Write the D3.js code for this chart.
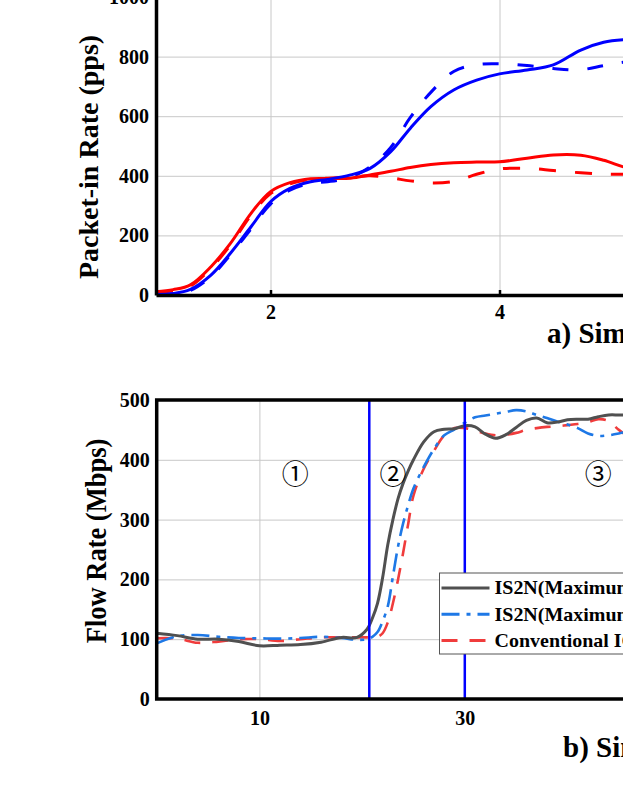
<!DOCTYPE html>
<html>
<head>
<meta charset="utf-8">
<script src="https://cdn.jsdelivr.net/npm/d3@7"></script>
<style>
  body { margin: 0; background: #fff; }
  svg { display: block; font-family: "Liberation Serif", "Times New Roman", serif; font-weight: bold; }
</style>
</head>
<body>
<svg id="chart" width="623" height="806"></svg>
<script>
// a) packet-in rate
const topTime = [1.0, 1.15, 1.3, 1.48, 1.65, 1.83, 2.0, 2.17, 2.35, 2.5, 2.7, 2.87, 3.05, 3.22, 3.4, 3.6, 3.8, 4.0, 4.24, 4.47, 4.71, 4.91, 5.1, 5.3];
const topBlueSolid = [2, 5, 19, 67, 140, 229, 313, 358, 380, 388, 403, 425, 481, 559, 632, 688, 721, 742, 755, 772, 822, 848, 857, 858];
const topBlueDash = [0, 3, 15, 62, 135, 222, 305, 352, 375, 380, 395, 430, 495, 595, 680, 750, 773, 776, 770, 760, 756, 770, 782, 785];
const topRedSolid = [11, 18, 34, 95, 173, 274, 347, 377, 390, 391, 392, 403, 415, 428, 438, 444, 446, 447, 459, 470, 469, 452, 428, 412];
const topRedDash = [8, 14, 30, 90, 168, 268, 340, 373, 388, 392, 396, 400, 393, 383, 376, 381, 405, 423, 425, 418, 410, 406, 405, 405];
const topYTicks = [0, 200, 400, 600, 800, 1000];
const topXTicks = [2, 4];

// b) flow rate
const bottomTime = [0, 2, 4, 6, 8, 10, 12, 14, 16, 18, 19.5, 20.5, 21, 21.5, 22, 22.5, 23, 23.5, 24, 24.5, 25, 26, 27, 28, 29, 30, 31, 32, 33, 34, 35, 36, 37, 38, 39, 40, 41, 42, 43, 44, 45, 46, 48];
const grayRate = [110, 106, 100, 100, 96, 89, 90, 91, 95, 103, 103, 117, 135, 160, 203, 258, 300, 335, 361, 382, 400, 430, 447, 451, 452, 457, 455, 443, 436, 442, 454, 466, 470, 462, 463, 467, 468, 468, 472, 475, 475, 475, 475];
const blueRate = [93, 105, 107, 104, 102, 101.5, 101, 102, 104, 102, 99, 100, 104, 112, 130, 155, 205, 255, 294, 325, 352, 388, 418, 441, 451, 462, 471, 474, 477, 480, 483, 481, 475, 470, 464, 459, 453, 444, 440, 441, 444, 448, 452];
const redRate = [101.5, 101, 94, 96, 100, 100, 97, 100, 103, 103, 103, 103, 103, 104, 110, 128, 160, 200, 245, 294, 340, 385, 415, 441, 453, 453, 449, 444, 441, 442, 445, 450, 453, 455, 456, 458, 460, 463, 468, 465, 450, 440, 440];
const bottomYTicks = [0, 100, 200, 300, 400, 500];
const bottomXTicks = [10, 30];
const phaseLines = [20.7, 30];
const phaseLabels = [{x: 13.5, text: '①'}, {x: 23.0, text: '②'}, {x: 43.0, text: '③'}];
const legendNames = ['IS2N(Maximum Throughput)', 'IS2N(Maximum Fairness)', 'Conventional ICN'];

const svg = d3.select('#chart');
const fmt = d3.format('d');
const styleTicks = g => g.attr('font-family', null).attr('font-size', null)
    .call(g => g.selectAll('text').attr('font-size', 20));

// top panel ----------------------------------------------------------------
const tx = d3.scaleLinear().domain([1, 7]).range([156, 843]);
const ty = d3.scaleLinear().domain([0, 1000]).range([295, -3]);

const topPanel = svg.append('g');
topPanel.append('clipPath').attr('id', 'clipTop')
    .append('rect').attr('x', 156).attr('y', -3).attr('width', 687).attr('height', 298);

topPanel.append('g').attr('transform', 'translate(0,295)')
    .call(d3.axisBottom(tx).tickValues([2, 4, 6]).tickSize(-298).tickFormat(''))
    .call(g => g.select('.domain').remove())
    .call(g => g.selectAll('line').attr('stroke', '#c8c8c8'));
topPanel.append('g').attr('transform', 'translate(156,0)')
    .call(d3.axisLeft(ty).tickValues([200, 400, 600, 800]).tickSize(-687).tickFormat(''))
    .call(g => g.select('.domain').remove())
    .call(g => g.selectAll('line').attr('stroke', '#c8c8c8'));

const topLine = d3.line().x(d => tx(d[0])).y(d => ty(d[1])).curve(d3.curveCatmullRom);
const topSeries = [
  {values: topRedDash, color: '#ff0000', dash: '17,19'},
  {values: topBlueDash, color: '#0000ff', dash: '16,19'},
  {values: topRedSolid, color: '#ff0000', dash: null},
  {values: topBlueSolid, color: '#0000ff', dash: null}
];
topPanel.append('g').attr('clip-path', 'url(#clipTop)')
  .selectAll('path').data(topSeries).join('path')
    .attr('d', s => topLine(topTime.map((t, i) => [t, s.values[i]])))
    .attr('fill', 'none')
    .attr('stroke', s => s.color)
    .attr('stroke-width', 3)
    .attr('stroke-dasharray', s => s.dash);

topPanel.append('g').attr('transform', 'translate(0,295)')
    .call(d3.axisBottom(tx).tickValues(topXTicks).tickFormat(fmt).tickSizeInner(-5).tickSizeOuter(0).tickPadding(10))
    .call(g => g.select('.domain').attr('stroke-width', 3.5))
    .call(g => g.selectAll('.tick line').attr('stroke-width', 2.5))
    .call(styleTicks);
topPanel.append('g').attr('transform', 'translate(156,0)')
    .call(d3.axisLeft(ty).tickValues(topYTicks).tickFormat(fmt).tickSize(0).tickPadding(7))
    .call(g => g.select('.domain').attr('stroke-width', 3.5))
    .call(styleTicks);

topPanel.append('text')
    .attr('transform', 'translate(98,157) rotate(-90)')
    .attr('text-anchor', 'middle')
    .attr('font-size', 28)
    .text('Packet-in Rate (pps)');
topPanel.append('text')
    .attr('x', 547).attr('y', 343)
    .attr('font-size', 29)
    .text('a) Simulation Time (s)');

// bottom panel -------------------------------------------------------------
const bx = d3.scaleLinear().domain([0, 60]).range([156.7, 772.9]);
const by = d3.scaleLinear().domain([0, 500]).range([699, 400]);

const bottomPanel = svg.append('g');
bottomPanel.append('clipPath').attr('id', 'clipBottom')
    .append('rect').attr('x', 156.7).attr('y', 400).attr('width', 616).attr('height', 299);

bottomPanel.append('g').attr('transform', 'translate(0,699)')
    .call(d3.axisBottom(bx).tickValues([10, 30, 50]).tickSize(-299).tickFormat(''))
    .call(g => g.select('.domain').remove())
    .call(g => g.selectAll('line').attr('stroke', '#c8c8c8'));
bottomPanel.append('g').attr('transform', 'translate(156.7,0)')
    .call(d3.axisLeft(by).tickValues([100, 200, 300, 400]).tickSize(-616).tickFormat(''))
    .call(g => g.select('.domain').remove())
    .call(g => g.selectAll('line').attr('stroke', '#c8c8c8'));

const bottomLine = d3.line().x(d => bx(d[0])).y(d => by(d[1])).curve(d3.curveCatmullRom);
const bottomSeries = [
  {values: redRate, color: '#f03c3c', dash: '16,12', width: 2.6},
  {values: blueRate, color: '#1e78e6', dash: '18,7,4,7', width: 2.6},
  {values: grayRate, color: '#505050', dash: null, width: 3}
];
bottomPanel.append('g').attr('clip-path', 'url(#clipBottom)')
  .selectAll('path').data(bottomSeries).join('path')
    .attr('d', s => bottomLine(bottomTime.map((t, i) => [t, s.values[i]])))
    .attr('fill', 'none')
    .attr('stroke', s => s.color)
    .attr('stroke-width', s => s.width)
    .attr('stroke-dasharray', s => s.dash);

bottomPanel.append('g')
  .selectAll('line').data(phaseLines).join('line')
    .attr('x1', d => bx(d)).attr('x2', d => bx(d))
    .attr('y1', 400).attr('y2', 699)
    .attr('stroke', '#0000ff').attr('stroke-width', 2.5);

bottomPanel.append('g')
  .selectAll('text').data(phaseLabels).join('text')
    .attr('x', d => bx(d.x)).attr('y', by(375))
    .attr('dy', '0.35em')
    .attr('text-anchor', 'middle')
    .attr('font-family', '"Noto Sans CJK JP", "DejaVu Sans", sans-serif')
    .attr('font-weight', 'normal')
    .attr('font-size', 27)
    .text(d => d.text);

// frame
bottomPanel.append('rect')
    .attr('x', 156.7).attr('y', 400).attr('width', 616).attr('height', 299)
    .attr('fill', 'none').attr('stroke', '#000').attr('stroke-width', 3.5);
bottomPanel.append('g').attr('transform', 'translate(0,699)')
    .call(d3.axisBottom(bx).tickValues(bottomXTicks).tickFormat(fmt).tickSize(0).tickPadding(12))
    .call(g => g.select('.domain').remove())
    .call(styleTicks);
bottomPanel.append('g').attr('transform', 'translate(156.7,0)')
    .call(d3.axisLeft(by).tickValues(bottomYTicks).tickFormat(fmt).tickSize(0).tickPadding(7))
    .call(g => g.select('.domain').remove())
    .call(styleTicks);

bottomPanel.append('text')
    .attr('transform', 'translate(106,541) scale(1.15,1) rotate(-90)')
    .attr('text-anchor', 'middle')
    .attr('font-size', 26.5)
    .text('Flow Rate (Mbps)');
bottomPanel.append('text')
    .attr('x', 563).attr('y', 757)
    .attr('font-size', 29)
    .text('b) Simulation Time (s)');

// legend
const legend = bottomPanel.append('g').attr('transform', 'translate(439.5,573)');
legend.append('rect')
    .attr('width', 260).attr('height', 81)
    .attr('fill', '#fff').attr('stroke', '#555').attr('stroke-width', 1);
const legendRows = legend.selectAll('g').data(bottomSeries.slice().reverse()).join('g')
    .attr('transform', (d, i) => `translate(0,${15 + i * 26.3})`);
legendRows.append('line')
    .attr('x1', 2).attr('x2', 50)
    .attr('stroke', d => d.color)
    .attr('stroke-width', 3)
    .attr('stroke-dasharray', d => d.dash);
legendRows.append('text')
    .attr('transform', 'translate(55,0) scale(1.08,1)')
    .attr('dy', '0.35em')
    .attr('font-size', 18.5)
    .text((d, i) => legendNames[i]);
</script>
</body>
</html>
